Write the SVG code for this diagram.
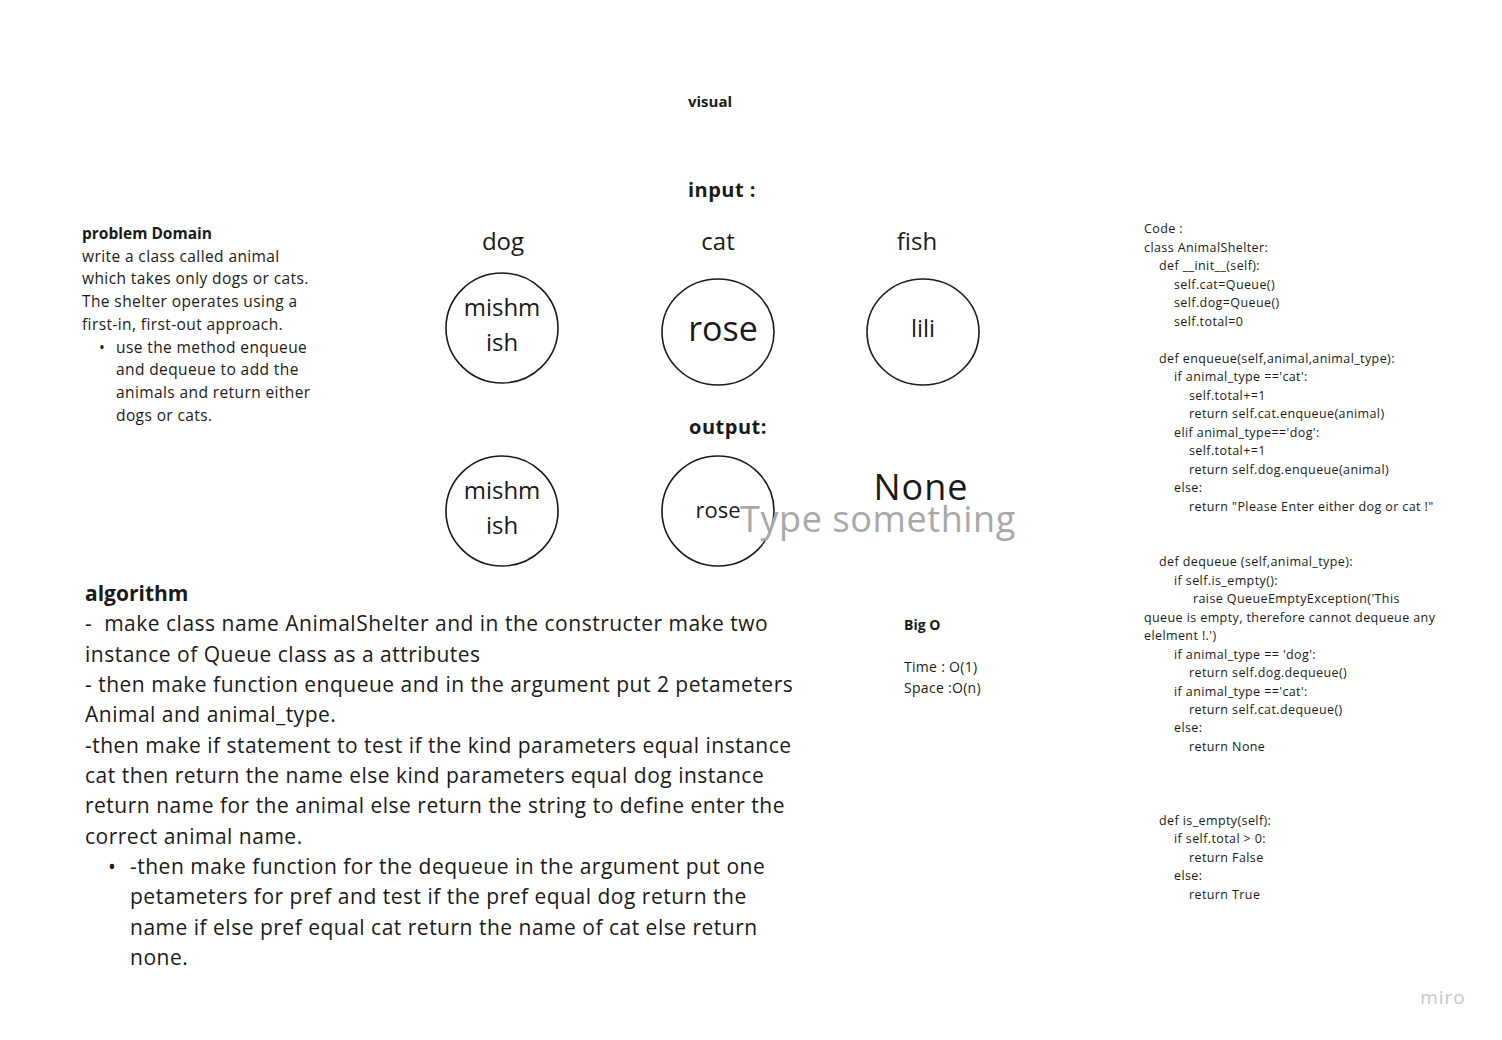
<svg xmlns="http://www.w3.org/2000/svg" width="1502" height="1040" viewBox="0 0 1502 1040">
<style>
text{font-family:"Open Sans","Liberation Sans",sans-serif;fill:#1a1a1a}
.b{font-weight:bold}
.c{font-size:12.5px;letter-spacing:0.4px}
.p{font-size:15.5px;letter-spacing:0.4px}
.a{font-size:21px;letter-spacing:0.5px}
.n{text-anchor:middle}
.circ{fill:#fff;stroke:#1a1a1a;stroke-width:1.6}
</style>
<rect width="1502" height="1040" fill="#fff"/>
<text class="b" x="710" y="107" font-size="15" text-anchor="middle">visual</text>
<text class="b" x="722" y="197" font-size="20" text-anchor="middle" letter-spacing="0.5">input :</text>
<text class="b" x="728" y="434" font-size="20" text-anchor="middle" letter-spacing="0.5">output:</text>
<g id="labels">
<text class="n" x="503" y="250" font-size="24">dog</text>
<text class="n" x="718" y="250" font-size="24">cat</text>
<text class="n" x="917" y="250" font-size="24">fish</text>
</g>
<g id="in-dog"><ellipse class="circ" cx="502" cy="328" rx="56" ry="55"/><text class="n" x="502" y="316" font-size="24">mishm</text><text class="n" x="502" y="351" font-size="24">ish</text></g>
<g id="in-cat"><ellipse class="circ" cx="718" cy="332" rx="56" ry="53"/><text class="n" x="723" y="341" font-size="34">rose</text></g>
<g id="in-fish"><ellipse class="circ" cx="923" cy="332" rx="56" ry="53"/><text class="n" x="923" y="337" font-size="24">lili</text></g>
<g id="out-dog"><ellipse class="circ" cx="502" cy="511" rx="56" ry="55"/><text class="n" x="502" y="499" font-size="24">mishm</text><text class="n" x="502" y="534" font-size="24">ish</text></g>
<g id="out-cat"><ellipse class="circ" cx="718" cy="511" rx="56" ry="55"/><text class="n" x="718" y="518" font-size="22">rose</text></g>
<g id="out-none"><text class="n" x="921" y="500" font-size="36" letter-spacing="1">None</text></g>
<text x="740" y="532" font-size="36" letter-spacing="0.6" style="fill:#a8a8a8">Type something</text>
<g id="problem">
<text class="p b" x="82" y="239" style="letter-spacing:0">problem Domain</text>
<text class="p" x="82" y="262">write a class called animal</text>
<text class="p" x="82" y="284">which takes only dogs or cats.</text>
<text class="p" x="82" y="307">The shelter operates using a</text>
<text class="p" x="82" y="330">first-in, first-out approach.</text>
<text class="p" x="99" y="353">•</text>
<text class="p" x="116" y="353">use the method enqueue</text>
<text class="p" x="116" y="375">and dequeue to add the</text>
<text class="p" x="116" y="398">animals and return either</text>
<text class="p" x="116" y="421">dogs or cats.</text>
</g>
<g id="algorithm">
<text class="b" x="85" y="601" font-size="21">algorithm</text>
<text class="a" x="85" y="631">-&#160; make class name AnimalShelter and in the constructer make two</text>
<text class="a" x="85" y="662">instance of Queue class as a attributes</text>
<text class="a" x="85" y="692">- then make function enqueue and in the argument put 2 petameters</text>
<text class="a" x="85" y="722">Animal and animal_type.</text>
<text class="a" x="85" y="753">-then make if statement to test if the kind parameters equal instance</text>
<text class="a" x="85" y="783">cat then return the name else kind parameters equal dog instance</text>
<text class="a" x="85" y="813">return name for the animal else return the string to define enter the</text>
<text class="a" x="85" y="844">correct animal name.</text>
<text class="a" x="108" y="874">•</text>
<text class="a" x="130" y="874">-then make function for the dequeue in the argument put one</text>
<text class="a" x="130" y="904">petameters for pref and test if the pref equal dog return the</text>
<text class="a" x="130" y="935">name if else pref equal cat return the name of cat else return</text>
<text class="a" x="130" y="965">none.</text>
</g>
<g id="bigo">
<text class="b" x="904" y="630" font-size="14">Big O</text>
<text x="904" y="672" font-size="14" letter-spacing="0.3">Time : O(1)</text>
<text x="904" y="693" font-size="14" letter-spacing="0.3">Space :O(n)</text>
</g>
<g id="code">
<text class="c" x="1144" y="233">Code :</text>
<text class="c" x="1144" y="252">class AnimalShelter:</text>
<text class="c" x="1159" y="270">def __init__(self):</text>
<text class="c" x="1174" y="289">self.cat=Queue()</text>
<text class="c" x="1174" y="307">self.dog=Queue()</text>
<text class="c" x="1174" y="326">self.total=0</text>
<text class="c" x="1159" y="363">def enqueue(self,animal,animal_type):</text>
<text class="c" x="1174" y="381">if animal_type =='cat':</text>
<text class="c" x="1189" y="400">self.total+=1</text>
<text class="c" x="1189" y="418">return self.cat.enqueue(animal)</text>
<text class="c" x="1174" y="437">elif animal_type=='dog':</text>
<text class="c" x="1189" y="455">self.total+=1</text>
<text class="c" x="1189" y="474">return self.dog.enqueue(animal)</text>
<text class="c" x="1174" y="492">else:</text>
<text class="c" x="1189" y="511">return "Please Enter either dog or cat !"</text>
<text class="c" x="1159" y="566">def dequeue (self,animal_type):</text>
<text class="c" x="1174" y="585">if self.is_empty():</text>
<text class="c" x="1193" y="603">raise QueueEmptyException('This</text>
<text class="c" x="1144" y="622">queue is empty, therefore cannot dequeue any</text>
<text class="c" x="1144" y="640">elelment !.')</text>
<text class="c" x="1174" y="659">if animal_type == 'dog':</text>
<text class="c" x="1189" y="677">return self.dog.dequeue()</text>
<text class="c" x="1174" y="696">if animal_type =='cat':</text>
<text class="c" x="1189" y="714">return self.cat.dequeue()</text>
<text class="c" x="1174" y="732">else:</text>
<text class="c" x="1189" y="751">return None</text>
<text class="c" x="1159" y="825">def is_empty(self):</text>
<text class="c" x="1174" y="843">if self.total &gt; 0:</text>
<text class="c" x="1189" y="862">return False</text>
<text class="c" x="1174" y="880">else:</text>
<text class="c" x="1189" y="899">return True</text>
</g>
<text x="1443" y="1004" font-size="19" text-anchor="middle" style="fill:#c6c6cc;letter-spacing:1px">miro</text>
</svg>
